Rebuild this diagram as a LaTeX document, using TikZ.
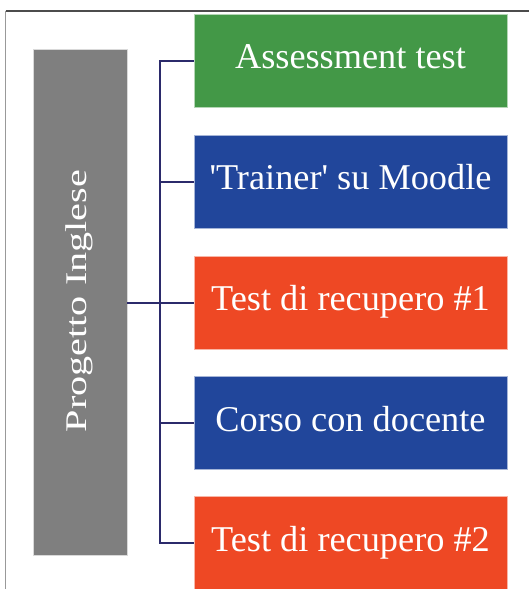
\documentclass[tikz,border=0pt]{standalone}
\usepackage{fontspec}
\setmainfont{Liberation Serif}
\newfontfamily\widefont[FakeStretch=1.34]{Liberation Serif}
\definecolor{boxgreen}{RGB}{67,152,71}
\definecolor{boxblue}{RGB}{33,70,155}
\definecolor{boxorange}{RGB}{238,72,36}
\definecolor{boxgray}{RGB}{127,127,127}
\definecolor{linknavy}{RGB}{43,42,107}
\tikzset{
  item/.style={draw=white!60!#1, line width=0.6pt, fill=#1, text=white,
    minimum width=313pt, minimum height=93pt, inner sep=0pt,
    font=\fontsize{36.3pt}{40pt}\selectfont, text height=25.4pt, text depth=9pt},
  rootbox/.style={draw=white!70!boxgray, line width=0.6pt, fill=boxgray, text=white,
    minimum width=94pt, minimum height=506pt, inner sep=0pt},
  link/.style={draw=linknavy, line width=2pt},
  frame/.style={line width=1.2pt}
}
\begin{document}
\begin{tikzpicture}[x=1pt, y=-1pt]
\useasboundingbox (0,0) rectangle (529,589);
% outer frame: top and left edges only
\draw[frame, draw=black!70] (5.5,11) -- (529,11);
\draw[frame, draw=black!40] (5.5,11) -- (5.5,589);
% root
\node[rootbox] (root) at (80,302) {};
\node[text=white, rotate=90, font=\widefont\fontsize{30pt}{34pt}\selectfont,
  text height=21pt, text depth=7.5pt, inner sep=0pt] (rootlabel) at (80,301) {Progetto Inglese};
% items
\node[item=boxgreen]  (a) at (350.5,60.5)  {Assessment test};
\node[item=boxblue]   (b) at (350.5,181.5) {\textquotesingle Trainer\textquotesingle{} su Moodle};
\node[item=boxorange] (c) at (350.5,302.5) {Test di recupero \#1};
\node[item=boxblue]   (d) at (350.5,423)   {Corso con docente};
\node[item=boxorange] (e) at (350.5,543)   {Test di recupero \#2};
% connectors
\coordinate (spineTop) at (160,60.5);
\coordinate (spineBot) at (160,543);
\coordinate (spineMid) at (160,302.5);
\draw[link] (root.east |- spineMid) -- (spineMid);
\draw[link, line cap=rect] (spineTop) -- (spineBot);
\draw[link] (spineTop) -- (a.west);
\draw[link] (160,181.5) -- (b.west);
\draw[link] (spineMid) -- (c.west);
\draw[link] (160,423) -- (d.west);
\draw[link] (spineBot) -- (e.west);
\end{tikzpicture}
\end{document}
